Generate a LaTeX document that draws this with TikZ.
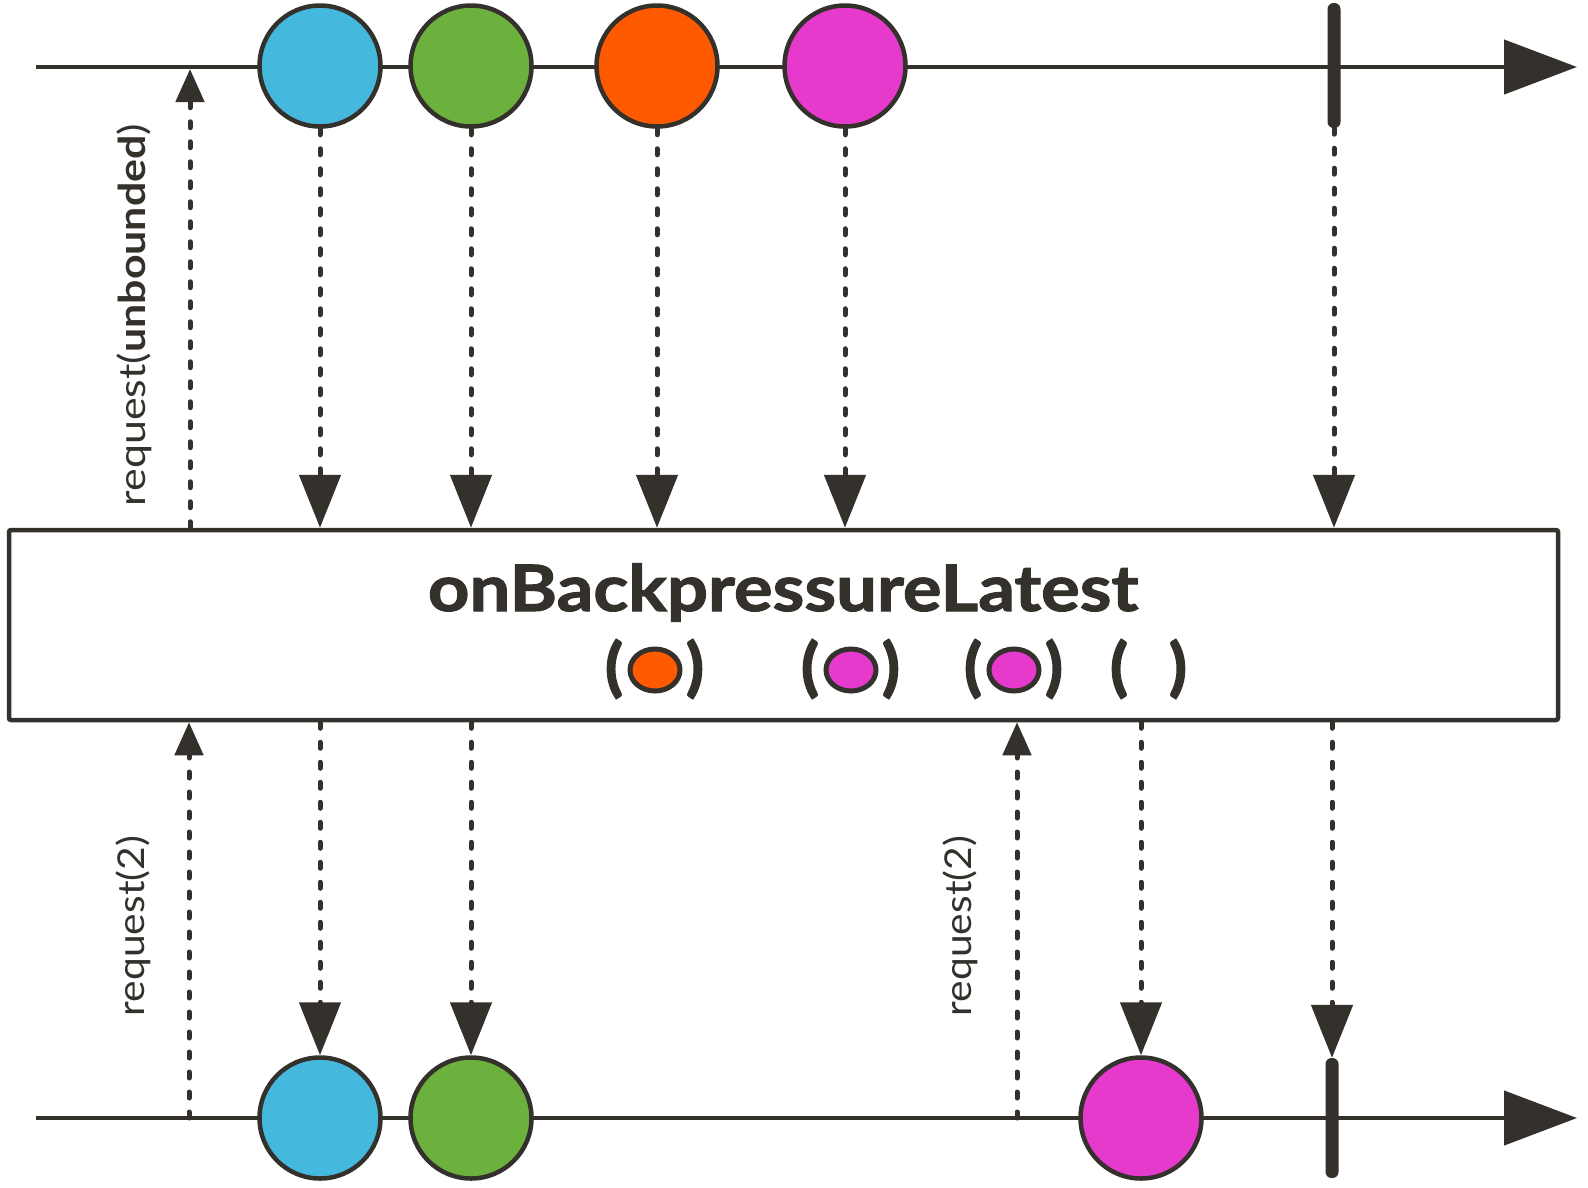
\documentclass[tikz,border=0pt]{standalone}
\usepackage{fontspec}
\setmainfont{Lato}
\newfontfamily\heavyfont{Lato}[BoldFeatures={FakeBold=1.6}]
\newfontfamily\parenfont{Lato}[BoldFeatures={FakeBold=3.5}]
\usetikzlibrary{
    arrows.meta,
    positioning,
    shapes.geometric
}
\definecolor{rxink}{RGB}{52, 49, 44}
\definecolor{rxblue}{RGB}{69, 184, 221}
\definecolor{rxgreen}{RGB}{108, 177, 62}
\definecolor{rxorange}{RGB}{255, 90, 0}
\definecolor{rxpink}{RGB}{230, 58, 204}

\begin{document}
\begin{tikzpicture}[x=1pt, y=-1pt,
        timeline/.style={draw=rxink, line width=4.5pt, -{Triangle[width=54pt, length=73pt]}},
        marble/.style={circle, draw=rxink, line width=4.5pt, minimum size=121pt, inner sep=0pt},
        endtick/.style={rectangle, rounded corners=6pt, fill=rxink, minimum width=13pt, minimum height=#1, inner sep=0pt},
        emit/.style={draw=rxink, line width=5pt, line cap=round, dash pattern=on 6pt off 14pt, -{Triangle[width=41pt, length=53pt]}},
        ask/.style={draw=rxink, line width=5pt, line cap=round, dash pattern=on 6pt off 14pt, -{Triangle[width=28pt, length=33pt]}},
        opbox/.style={rectangle, draw=rxink, line width=4.5pt, rounded corners=2pt, fill=white, minimum width=1549pt, minimum height=190pt},
        paren/.style={text=rxink, font=\fontsize{62}{64}\parenfont\bfseries, inner sep=0pt},
        buffer/.style={ellipse, draw=rxink, line width=5pt, minimum width=50pt, minimum height=42pt, inner sep=0pt},
        reqlabel/.style={rotate=90, text=rxink, font=\fontsize{37}{40}\selectfont, inner sep=0pt}
    ]
    \useasboundingbox (0,0) rectangle (1588,1187);

    % source timeline
    \coordinate (srcstart) at (36,67);
    \coordinate (srcstop) at (1577,67);
    \draw[timeline] (srcstart) -- (srcstop);
    \node[marble, fill=rxblue] (a1) at (320,66) {};
    \node[marble, fill=rxgreen] (a2) at (471,66) {};
    \node[marble, fill=rxorange] (a3) at (657,66) {};
    \node[marble, fill=rxpink] (a4) at (845,66) {};
    \node[endtick=125pt] (aend) at (1334,65.5) {};

    % operator
    \node[opbox] (op) at (783.5,625) {};
    \node[anchor=base, text=rxink, font=\fontsize{64}{70}\heavyfont\bfseries] (title) at (783,611) {\scalebox{1.13}[1]{onBackpressureLatest}};

    \node[paren] (g1l) at (614,669) {(};
    \node[buffer, fill=rxorange] (g1) at (655,670) {};
    \node[paren] (g1r) at (695,669) {)};
    \node[paren] (g2l) at (810,669) {(};
    \node[buffer, fill=rxpink] (g2) at (851,670) {};
    \node[paren] (g2r) at (891,669) {)};
    \node[paren] (g3l) at (973,669) {(};
    \node[buffer, fill=rxpink] (g3) at (1014,670) {};
    \node[paren] (g3r) at (1054,669) {)};
    \node[paren] (g4l) at (1119,669) {(};
    \node[paren] (g4r) at (1178,669) {)};

    % upstream signals
    \foreach \m in {a1,a2,a3,a4}
        \draw[emit] (\m.south) -- (\m.south |- op.north);
    \draw[emit] (aend.south) -- (aend.south |- op.north);
    \coordinate (askup) at (190,69);
    \draw[ask] (askup |- op.north) -- (askup);
    \node[reqlabel] (l1) at (134,315) {\scalebox{1.16}[1]{request(\textbf{unbounded})}};

    % result timeline
    \coordinate (dststart) at (36,1118);
    \coordinate (dststop) at (1577,1118);
    \draw[timeline] (dststart) -- (dststop);
    \node[marble, fill=rxblue] (b1) at (320,1118) {};
    \node[marble, fill=rxgreen] (b2) at (471,1118) {};
    \node[marble, fill=rxpink] (b3) at (1141,1118) {};
    \node[endtick=120pt] (bend) at (1332,1118) {};

    % downstream signals
    \foreach \m in {b1,b2,b3,bend}
        \draw[emit] (\m.north |- op.south) -- (\m.north);
    \coordinate (ask1) at (189,1118);
    \coordinate (ask2) at (1017,1118);
    \draw[ask] (ask1) -- (ask1 |- op.south);
    \draw[ask] (ask2) -- (ask2 |- op.south);
    \node[reqlabel] (l2) at (133,926) {\scalebox{1.1}[1]{request(2)}};
    \node[reqlabel] (l3) at (960,926) {\scalebox{1.1}[1]{request(2)}};
\end{tikzpicture}
\end{document}
